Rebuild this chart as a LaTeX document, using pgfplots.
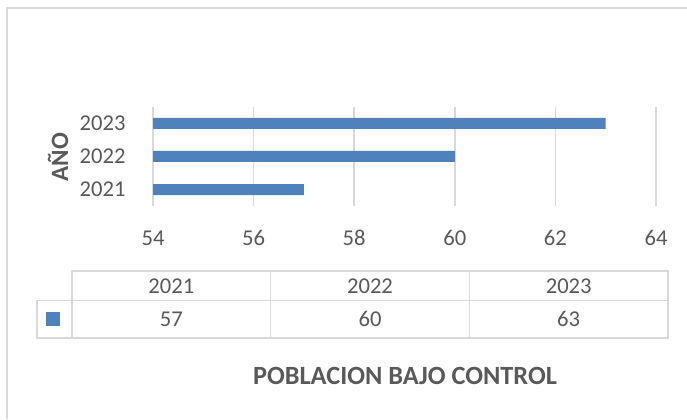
\documentclass[border=0pt]{standalone}
\usepackage{fontspec}
\setmainfont{Carlito}
\usepackage{pgfplots}
\pgfplotsset{compat=1.18}
\definecolor{barblue}{RGB}{79,129,189}
\definecolor{txtgray}{RGB}{89,89,89}
\definecolor{linegray}{RGB}{217,217,217}

\begin{document}
\begin{tikzpicture}[x=1bp,y=1bp]
\path[use as bounding box] (0,0) rectangle (687,419);
% chart frame (only top and left edges are in view)
\draw[linegray, line width=2bp] (7,0) -- (7,411) -- (687,411);
\begin{axis}[
  at={(153bp,213bp)}, anchor=south west,
  scale only axis, width=503bp, height=99bp,
  xbar, bar width=11bp,
  xmin=54, xmax=64, ymin=0.5, ymax=3.5,
  xtick={54,56,...,64},
  ytick={1,2,3}, yticklabels={2021,2022,2023},
  axis line style={draw=none},
  major tick length=0pt,
  xmajorgrids, grid style={linegray, line width=1.5bp},
  tick label style={font=\fontsize{22.7}{27}\selectfont, text=txtgray},
  /pgf/number format/assume math mode=true,
  xticklabel style={anchor=center, yshift=-32bp},
  yticklabel style={anchor=east, xshift=-24bp},
  clip=true,
]
\addplot[fill=barblue, draw=none] coordinates {(57,1) (60,2) (63,3)};
\end{axis}
% axis title
\node[rotate=90, font=\fontsize{25}{30}\selectfont\bfseries, text=txtgray] at (58,262) {AÑO};
% data table
\begin{scope}[linegray, line width=1.5bp]
  \draw (72,148) rectangle (668,81);
  \draw (37,118.5) rectangle (72,81);
  \draw (72,118.5) -- (668,118.5);
  \draw (270.7,148) -- (270.7,81);
  \draw (469.3,148) -- (469.3,81);
\end{scope}
\fill[barblue] (46,93) rectangle (60,107);
\begin{scope}[font=\fontsize{22.7}{27}\selectfont, text=txtgray]
  \node at (171.3,133.25) {2021};
  \node at (370,133.25) {2022};
  \node at (568.7,133.25) {2023};
  \node at (171.3,99.75) {57};
  \node at (370,99.75) {60};
  \node at (568.7,99.75) {63};
\end{scope}
\node[font=\fontsize{26.4}{31}\selectfont\bfseries, text=txtgray] at (405,43) {POBLACION BAJO CONTROL};
\end{tikzpicture}
\end{document}
